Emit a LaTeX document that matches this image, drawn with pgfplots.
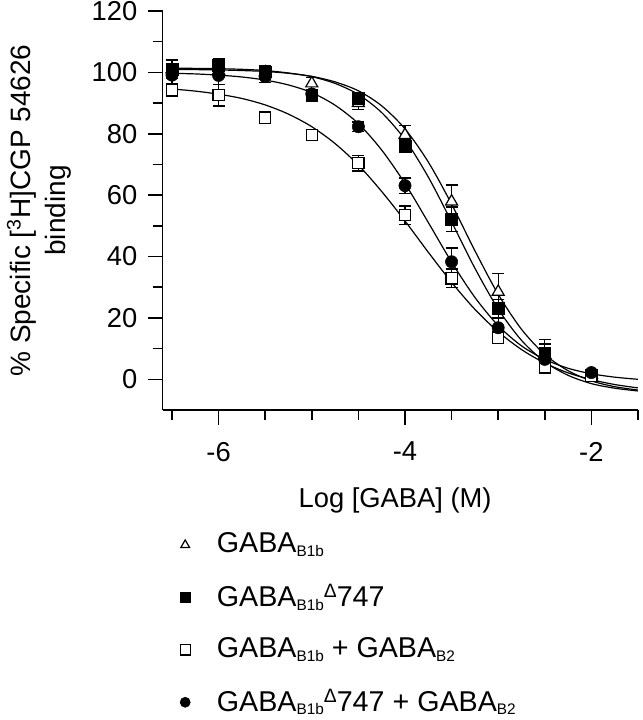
\documentclass[border=0pt]{standalone}
\usepackage{pgfplots}
\pgfplotsset{compat=1.18}
\usepackage{fontspec}
\setmainfont{Liberation Sans}
\newcommand{\sub}[1]{\raisebox{-2.8pt}{\fontsize{11.5}{11.5}\selectfont #1}}
\newcommand{\dlt}{\raisebox{6.5pt}{\fontsize{14.5}{14.5}\selectfont Δ}}
\begin{document}
\fontsize{20.5}{24.6}\selectfont
\begin{tikzpicture}
\useasboundingbox (-122pt,-232.5pt) rectangle (359.5pt,307.5pt);
\begin{axis}[
  at={(0,0)}, anchor=south west,
  scale only axis, width=356.5pt, height=299.25pt,
  xmin=-6.6, xmax=-1.5, ymin=-10, ymax=120,
  axis x line*=bottom, axis y line*=left,
  axis line style={line width=1.1pt},
  xtick={-6,-4,-2}, xticklabels={-6,-4,-2},
  minor xtick={-6.5,-5.5,-5,-4.5,-3.5,-3,-2.5,-1.5},
  ytick={0,20,...,120}, minor ytick={10,30,...,110},
  tick align=outside, major tick length=11pt, minor tick length=7.5pt,
  every tick/.style={black, line width=1.1pt},
  /pgf/number format/assume math mode=true,
  ticklabel style={font=\fontsize{20.5}{24.6}\selectfont},
  yticklabel style={xshift=-1pt},
  xticklabel style={yshift=-6pt},
  xlabel={Log [GABA] (M)},
  ylabel={\% Specific [\textsuperscript{3}H]CGP 54626\\binding},
  xlabel style={at={(axis description cs:0.489,-0.2256)}, anchor=center, font=\fontsize{20.5}{24.6}\selectfont},
  ylabel style={at={(axis description cs:-0.26,0.5)}, anchor=center, align=center, font=\fontsize{21}{26}\selectfont},
  legend style={at={(axis description cs:0,0)}, anchor=north west, xshift=10.7pt, yshift=-92pt,
    draw=none, fill=none, inner sep=0pt, row sep=20.5pt,
    nodes={inner sep=0pt}, font=\fontsize{21.5}{25.8}\selectfont},
  legend cell align=left,
  legend image code/.code={\path[draw=none, fill=none] (-6pt,-6pt) rectangle (23.8pt,6pt); \draw[#1, mark size=3.8pt] plot coordinates {(0pt,0pt)};},
]
% fitted curves
\addplot[black, line width=0.9pt, smooth, forget plot] coordinates {(-6.5,100.9)(-6.25,100.9)(-6,100.8)(-5.75,100.6)(-5.5,100.3)(-5.25,99.7)(-5,98.7)(-4.75,96.9)(-4.5,94.0)(-4.25,89.1)(-4,81.6)(-3.75,70.8)(-3.5,57.1)(-3.25,41.9)(-3,27.7)(-2.75,16.3)(-2.5,8.1)(-2.25,2.8)(-2,-0.5)(-1.75,-2.4)(-1.5,-3.5)};
\addplot[black, line width=0.9pt, smooth, forget plot] coordinates {(-6.5,101.4)(-6.25,101.3)(-6,101.2)(-5.75,101.0)(-5.5,100.6)(-5.25,99.8)(-5,98.6)(-4.75,96.4)(-4.5,92.8)(-4.25,86.9)(-4,78.1)(-3.75,65.9)(-3.5,51.3)(-3.25,36.2)(-3,22.9)(-2.75,12.7)(-2.5,5.7)(-2.25,1.3)(-2,-1.4)(-1.75,-2.9)(-1.5,-3.8)};
\addplot[black, line width=0.9pt, smooth, forget plot] coordinates {(-6.5,94.6)(-6.25,93.9)(-6,92.9)(-5.75,91.5)(-5.5,89.4)(-5.25,86.4)(-5,82.3)(-4.75,76.8)(-4.5,69.8)(-4.25,61.2)(-4,51.6)(-3.75,41.4)(-3.5,31.6)(-3.25,22.8)(-3,15.5)(-2.75,9.7)(-2.5,5.3)(-2.25,2.1)(-2,-0.1)(-1.75,-1.7)(-1.5,-2.8)};
\addplot[black, line width=0.9pt, smooth, forget plot] coordinates {(-6.5,99.7)(-6.25,99.5)(-6,99.1)(-5.75,98.5)(-5.5,97.5)(-5.25,95.9)(-5,93.4)(-4.75,89.3)(-4.5,83.3)(-4.25,74.7)(-4,63.8)(-3.75,51.1)(-3.5,38.2)(-3.25,26.7)(-3,17.5)(-2.75,10.9)(-2.5,6.5)(-2.25,3.6)(-2,1.8)(-1.75,0.7)(-1.5,0.0)};
% data
\addplot[only marks, mark=triangle*, mark size=5.2pt, mark options={draw=black, fill=white, line width=0.9pt},
  error bars/.cd, y dir=both, y explicit, error bar style={black, line width=1pt},
  error mark options={rotate=90, mark size=4.5pt, line width=1pt}]
  coordinates {(-6.5,101) +- (0,3) (-6,100.5) +- (0,2) (-5.5,100) +- (0,2) (-5,96.4) +- (0,2) (-4.5,90) +- (0,2) (-4,79.6) +- (0,3) (-3.5,57.9) +- (0,5.4) (-3,28.5) +- (0,6) (-2.5,8) +- (0,5) (-2,1.5) +- (0,1)};
\addlegendentry{GABA\sub{B1b}}
\addplot[only marks, mark=square*, mark size=4.4pt, mark options={draw=black, fill=black},
  error bars/.cd, y dir=both, y explicit, error bar style={black, line width=1pt},
  error mark options={rotate=90, mark size=4.5pt, line width=1pt}]
  coordinates {(-6.5,101) +- (0,2) (-6,102.4) +- (0,2) (-5.5,100.2) +- (0,2) (-5,92.6) +- (0,1.5) (-4.5,91.5) +- (0,1.5) (-4,76) +- (0,2) (-3.5,52.1) +- (0,4) (-3,23.1) +- (0,3) (-2.5,8.5) +- (0,3) (-2,1.5) +- (0,1)};
\addlegendentry{GABA\sub{B1b}\dlt747}
\addplot[only marks, mark=square*, mark size=4.2pt, mark options={draw=black, fill=white, line width=0.9pt},
  error bars/.cd, y dir=both, y explicit, error bar style={black, line width=1pt},
  error mark options={rotate=90, mark size=4.5pt, line width=1pt}]
  coordinates {(-6.5,94.2) +- (0,2) (-6,92.6) +- (0,3.5) (-5.5,85.3) +- (0,1) (-5,79.6) +- (0,1) (-4.5,70.4) +- (0,2.5) (-4,53.5) +- (0,3) (-3.5,32.9) +- (0,3) (-3,13.6) +- (0,2) (-2.5,4.1) +- (0,2) (-2,1.1) +- (0,1)};
\addlegendentry{GABA\sub{B1b} + GABA\sub{B2}}
\addplot[only marks, mark=*, mark size=4.6pt, mark options={draw=black, fill=black},
  error bars/.cd, y dir=both, y explicit, error bar style={black, line width=1pt},
  error mark options={rotate=90, mark size=4.5pt, line width=1pt}]
  coordinates {(-6.5,99.1) +- (0,3) (-6,99) +- (0,3) (-5.5,98.6) +- (0,2) (-5,93) +- (0,1.5) (-4.5,82.3) +- (0,1.5) (-4,63.1) +- (0,2.5) (-3.5,38.3) +- (0,4.5) (-3,16.8) +- (0,3) (-2.5,6.5) +- (0,3) (-2,2.2) +- (0,1)};
\addlegendentry{GABA\sub{B1b}\dlt747 + GABA\sub{B2}}
\end{axis}
\end{tikzpicture}
\end{document}
